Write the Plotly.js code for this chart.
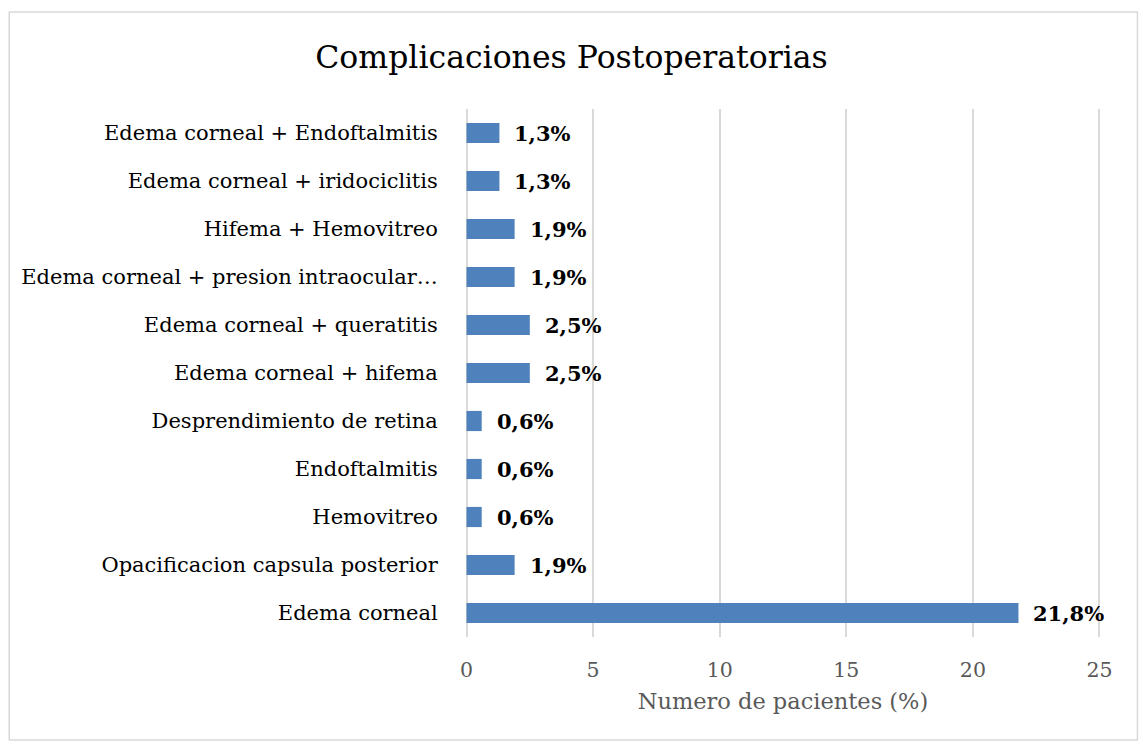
<!DOCTYPE html>
<html>
<head>
<meta charset="utf-8">
<script src="https://cdn.plot.ly/plotly-3.0.1.min.js"></script>
<style>html,body{margin:0;padding:0;background:#fff}#chart{width:1143px;height:747px}</style>
</head>
<body>
<div id="chart"></div>
<script>
const categories = [
  "Edema corneal",
  "Opacificacion capsula posterior",
  "Hemovitreo",
  "Endoftalmitis",
  "Desprendimiento de retina",
  "Edema corneal + hifema",
  "Edema corneal + queratitis",
  "Edema corneal + presion intraocular…",
  "Hifema + Hemovitreo",
  "Edema corneal + iridociclitis",
  "Edema corneal + Endoftalmitis"
];
const values = [21.8, 1.9, 0.6, 0.6, 0.6, 2.5, 2.5, 1.9, 1.9, 1.3, 1.3];
const valueLabels = ["21,8%", "1,9%", "0,6%", "0,6%", "0,6%", "2,5%", "2,5%", "1,9%", "1,9%", "1,3%", "1,3%"];
const xTicks = [0, 5, 10, 15, 20, 25];

const FONT = "DejaVu Serif, Liberation Serif, serif";
const L = 464.5, R = 1101.5, T = 109, B = 637, W = 1143, H = 747;
const pw = R - L, ph = B - T;
const px = v => (v - L) / pw;
const py = v => (B - v) / ph;

const trace = {
  type: "bar",
  orientation: "h",
  x: values,
  y: categories,
  marker: {color: "#4F81BD"},
  hoverinfo: "none"
};

const annotations = values.map((v, i) => ({
  x: v, y: categories[i], xref: "x", yref: "y",
  text: "<b>" + valueLabels[i] + "</b>",
  showarrow: false, xanchor: "left", xshift: 13,
  font: {family: FONT, size: 21, color: "#000"}
}));

const layout = {
  width: W, height: H,
  margin: {l: L, r: W - R, t: T, b: H - B, pad: 0},
  paper_bgcolor: "#fff", plot_bgcolor: "#fff",
  title: {text: "Complicaciones Postoperatorias", x: 0.5, xref: "container", y: 1 - 57 / H, yanchor: "middle",
          font: {family: FONT, size: 31.5, color: "#000"}},
  bargap: 0.58,
  showlegend: false,
  xaxis: {
    range: [-0.06, 25.06], tickvals: xTicks, ticktext: xTicks.map(String),
    showgrid: true, gridcolor: "#D9D9D9", gridwidth: 2,
    zeroline: true, zerolinecolor: "#D9D9D9", zerolinewidth: 2, showline: false,
    ticks: "outside", ticklen: 14, tickcolor: "rgba(0,0,0,0)",
    tickfont: {family: FONT, size: 20.5, color: "#595959"},
    title: {text: "Numero de pacientes (%)", standoff: 12, font: {family: FONT, size: 22.5, color: "#595959"}},
    fixedrange: true
  },
  yaxis: {
    type: "category", categoryorder: "array", categoryarray: categories,
    showgrid: false, zeroline: false, showline: false,
    ticks: "outside", ticklen: 22, tickcolor: "rgba(0,0,0,0)",
    tickfont: {family: FONT, size: 21, color: "#000"},
    fixedrange: true
  },
  annotations: annotations,
  shapes: [{
    type: "rect", xref: "paper", yref: "paper",
    x0: px(8), x1: px(1138), y0: py(740), y1: py(12),
    line: {color: "#D9D9D9", width: 1.5}, fillcolor: "rgba(0,0,0,0)", layer: "below"
  }]
};

Plotly.newPlot("chart", [trace], layout, {displayModeBar: false, staticPlot: true});
</script>
</body>
</html>
